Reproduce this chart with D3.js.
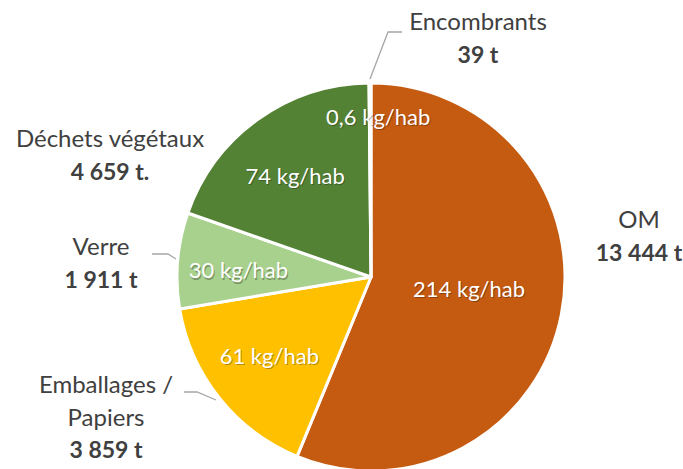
<!DOCTYPE html>
<html>
<head>
<meta charset="utf-8">
<script src="https://cdn.jsdelivr.net/npm/d3@7"></script>
<style>
  body { margin: 0; background: #fff; }
  text { font-family: Lato, "Open Sans", sans-serif; }
</style>
</head>
<body>
<div id="chart"></div>
<script>
var categories = ["OM", "Emballages / Papiers", "Verre", "Déchets végétaux", "Encombrants"];
var tonnes = [13444, 3859, 1911, 4659, 39];
var tonnesLabels = ["13 444 t", "3 859 t", "1 911 t", "4 659 t.", "39 t"];
var perHab = ["214 kg/hab", "61 kg/hab", "30 kg/hab", "74 kg/hab", "0,6 kg/hab"];
var colors = ["#C55A11", "#FFC000", "#A9D18E", "#548235", "#A5A5A5"];

var svgWidth = 683;
var svgHeight = 469;
var cx = 371, cy = 277, radius = 194;

var svg = d3.select("#chart")
  .append("svg")
  .attr("width", svgWidth)
  .attr("height", svgHeight);

var data = categories.map(function(c, i) {
  return { name: c, value: tonnes[i], tl: tonnesLabels[i], hab: perHab[i], color: colors[i] };
});

var pie = d3.pie().sort(null).value(d => d.value);
var arcs = pie(data);

var arc = d3.arc().innerRadius(0).outerRadius(radius);

var g = svg.append("g").attr("transform", `translate(${cx}, ${cy})`);

g.selectAll("path")
  .data(arcs)
  .enter()
  .append("path")
  .attr("d", arc)
  .attr("fill", d => d.data.color)
  .attr("stroke", "#fff")
  .attr("stroke-width", 3)
  .attr("stroke-linejoin", "round");

// inner labels (kg/hab), placed along each slice's bisector
var innerR = [100, 130, 133, 130, 160];
var innerDx = [0, 0, 0, 0, 8];
var innerDy = [-7, -2, 5, 5, 0];
var lbl = svg.append("g").attr("transform", `translate(${cx}, ${cy})`);
arcs.forEach(function(d, i) {
  var a = (d.startAngle + d.endAngle) / 2;
  var x = Math.sin(a) * innerR[i] + innerDx[i];
  var y = -Math.cos(a) * innerR[i] + innerDy[i];
  // soft shadow
  lbl.append("text")
    .attr("x", x + 1)
    .attr("y", y + 1.2)
    .attr("text-anchor", "middle")
    .attr("dy", "0.35em")
    .attr("font-size", 22)
    .attr("fill", "rgba(0,0,0,0.3)")
    .text(d.data.hab);
  lbl.append("text")
    .attr("x", x)
    .attr("y", y)
    .attr("text-anchor", "middle")
    .attr("dy", "0.35em")
    .attr("font-size", 22)
    .attr("fill", "white")
    .text(d.data.hab);
});

// outer labels
var outer = [
  { lines: ["OM"], x: 639, y: 220 },
  { lines: ["Emballages /", "Papiers"], x: 106, y: 385 },
  { lines: ["Verre"], x: 101, y: 247 },
  { lines: ["Déchets végétaux"], x: 110, y: 139 },
  { lines: ["Encombrants"], x: 478, y: 22 }
];
var lineH = 32.5;
outer.forEach(function(o, i) {
  var t = svg.append("g").attr("transform", `translate(${o.x}, ${o.y})`);
  o.lines.forEach(function(l, j) {
    t.append("text")
      .attr("y", j * lineH)
      .attr("dy", "0.35em")
      .attr("text-anchor", "middle")
      .attr("font-size", 24)
      .attr("fill", "#404040")
      .text(l);
  });
  t.append("text")
    .attr("y", o.lines.length * lineH)
    .attr("dy", "0.35em")
    .attr("text-anchor", "middle")
    .attr("font-size", 23)
    .attr("font-weight", "bold")
    .attr("fill", "#404040")
    .text(data[i].tl);
});

// leader lines
var leaders = [
  [[370, 79], [388, 32], [402, 32]],
  [[152, 254], [168, 254], [176, 259]],
  [[184, 392], [197, 392], [216, 400]]
];
svg.selectAll(".leader")
  .data(leaders)
  .enter()
  .append("path")
  .attr("class", "leader")
  .attr("d", d3.line())
  .attr("fill", "none")
  .attr("stroke", "#a6a6a6")
  .attr("stroke-width", 1.3);
</script>
</body>
</html>
